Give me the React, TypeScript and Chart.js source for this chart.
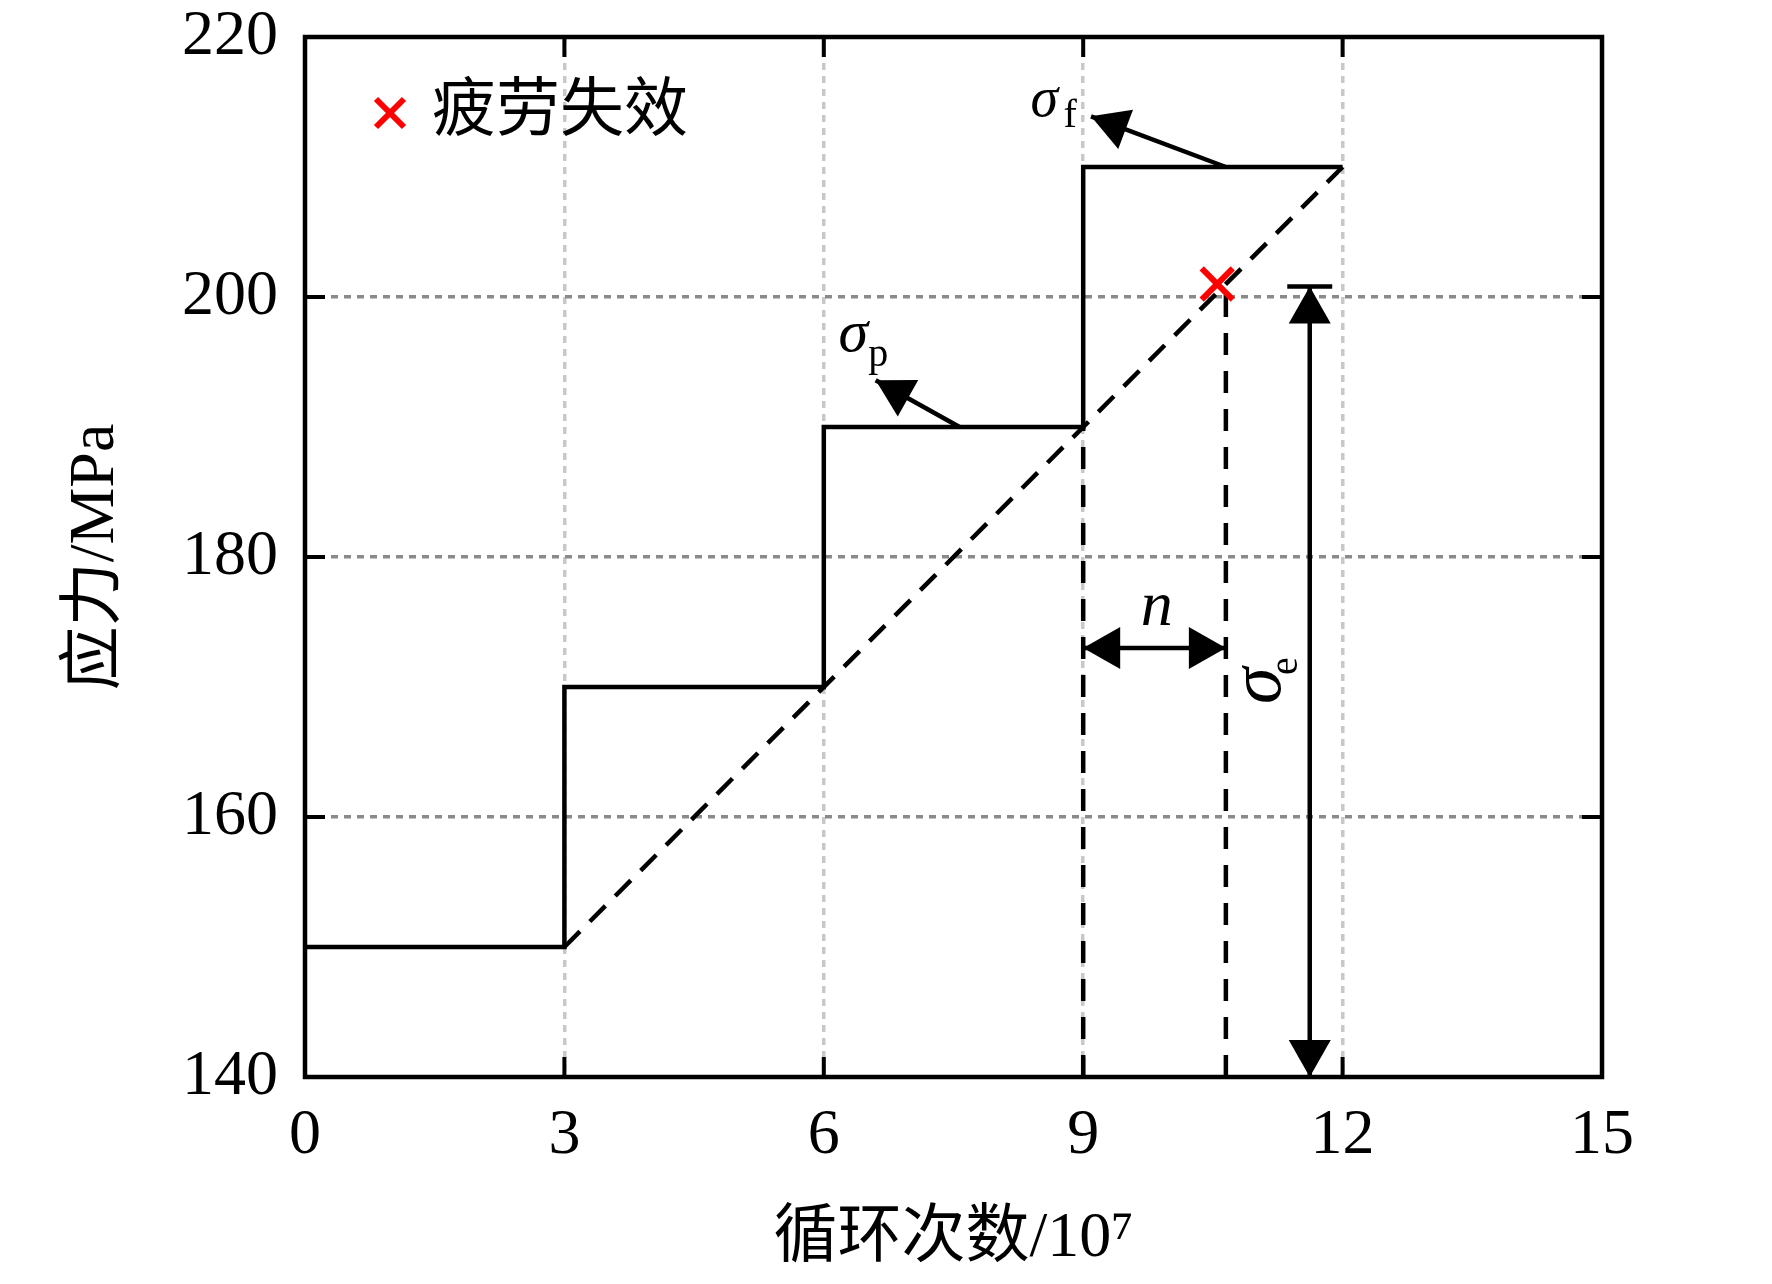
import { useEffect, useRef } from "react";
import { Chart, registerables } from "chart.js";

Chart.register(...registerables);

// axes
const xTicks = [0, 3, 6, 9, 12, 15];
const yTicks = [140, 160, 180, 200, 220];

// step loading: block start (10^7 cycles) and stress level (MPa)
const stepStarts = [0, 3, 6, 9];
const stepLevels = [150, 170, 190, 210];
const stepEnd = 12;

// dashed ramp through the step corners
const rampX = [3, 12];
const rampY = [150, 210];

// failure point
const failX = [10.55];
const failY = [201];

// dashed drop lines
const dropX = [9, 10.65];
const dropTop = [190, 200.5];

// arrows
const nArrowX = [9, 10.65];
const nArrowY = [173, 173];
const sigmaEArrowX = [11.62, 11.62];
const sigmaEArrowY = [140, 200.8];
const sigmaECapX = [11.36, 11.88];
const sigmaECapY = [200.8, 200.8];
const sigmaFArrowX = [10.65, 9.09];
const sigmaFArrowY = [210, 213.9];
const sigmaPArrowX = [7.57, 6.6];
const sigmaPArrowY = [190, 193.6];

const SERIF = "'Liberation Serif', 'Times New Roman', serif";
const MIXED = "'Liberation Serif', 'Noto Sans CJK SC', serif";

const pts = (xs: number[], ys: number[]) => xs.map((x, i) => ({ x, y: ys[i] }));

const line = (data: { x: number; y: number }[], dash: number[] = []) => ({
  type: "scatter" as const,
  data,
  showLine: true,
  borderColor: "#000",
  borderWidth: 4.5,
  borderDash: dash,
  borderJoinStyle: "miter" as const,
  pointRadius: 0,
  pointHoverRadius: 0,
  fill: false,
});

const stepPoints: { x: number; y: number }[] = [];
stepStarts.forEach((s, i) => {
  const e = i < stepStarts.length - 1 ? stepStarts[i + 1] : stepEnd;
  stepPoints.push({ x: s, y: stepLevels[i] }, { x: e, y: stepLevels[i] });
});

function head(ctx: CanvasRenderingContext2D, fx: number, fy: number, tx: number, ty: number) {
  const len = 37;
  const hw = 21;
  const d = Math.hypot(tx - fx, ty - fy);
  const ux = (tx - fx) / d;
  const uy = (ty - fy) / d;
  const bx = tx - ux * len;
  const by = ty - uy * len;
  ctx.beginPath();
  ctx.moveTo(tx, ty);
  ctx.lineTo(bx - uy * hw, by + ux * hw);
  ctx.lineTo(bx + uy * hw, by - ux * hw);
  ctx.closePath();
  ctx.fill();
}

const overlay = {
  id: "overlay",
  afterDatasetsDraw(chart: Chart) {
    const { ctx, chartArea } = chart;
    const sx = chart.scales.x;
    const sy = chart.scales.y;
    const X = (v: number) => sx.getPixelForValue(v);
    const Y = (v: number) => sy.getPixelForValue(v);
    ctx.save();

    // frame
    ctx.strokeStyle = "#000";
    ctx.lineWidth = 4.5;
    ctx.setLineDash([]);
    ctx.strokeRect(chartArea.left, chartArea.top, chartArea.right - chartArea.left, chartArea.bottom - chartArea.top);

    // inward ticks on all sides
    ctx.lineWidth = 4;
    ctx.beginPath();
    xTicks.forEach((v) => {
      const px = X(v);
      ctx.moveTo(px, chartArea.bottom);
      ctx.lineTo(px, chartArea.bottom - 20);
      ctx.moveTo(px, chartArea.top);
      ctx.lineTo(px, chartArea.top + 20);
    });
    yTicks.forEach((v) => {
      const py = Y(v);
      ctx.moveTo(chartArea.left, py);
      ctx.lineTo(chartArea.left + 20, py);
      ctx.moveTo(chartArea.right, py);
      ctx.lineTo(chartArea.right - 20, py);
    });
    ctx.stroke();

    // arrow heads
    ctx.fillStyle = "#000";
    const arrow = (xs: number[], ys: number[], both: boolean) => {
      head(ctx, X(xs[0]), Y(ys[0]), X(xs[1]), Y(ys[1]));
      if (both) head(ctx, X(xs[1]), Y(ys[1]), X(xs[0]), Y(ys[0]));
    };
    arrow(nArrowX, nArrowY, true);
    arrow(sigmaEArrowX, sigmaEArrowY, true);
    arrow(sigmaFArrowX, sigmaFArrowY, false);
    arrow(sigmaPArrowX, sigmaPArrowY, false);

    // labels (glyph centres given in data units)
    ctx.textAlign = "center";
    ctx.textBaseline = "alphabetic";
    const text = (t: string, xv: number, yv: number, style: string, size: number, k: number) => {
      ctx.font = `${style}${size}px ${SERIF}`;
      ctx.fillText(t, X(xv), Y(yv) + k * size);
    };
    text("σ", 8.55, 214.9, "italic ", 56, 0.23);
    text("f", 8.85, 214.1, "", 40, 0.34);
    text("σ", 6.34, 196.9, "italic ", 60, 0.23);
    text("p", 6.63, 195.1, "", 40, 0.12);
    text("n", 9.85, 175.9, "italic ", 64, 0.23);

    // rotated sigma_e
    const rot = (t: string, xv: number, yv: number, style: string, size: number, k: number) => {
      ctx.save();
      ctx.translate(X(xv), Y(yv));
      ctx.rotate(-Math.PI / 2);
      ctx.font = `${style}${size}px ${SERIF}`;
      ctx.fillText(t, 0, k * size);
      ctx.restore();
    };
    rot("σ", 11.08, 170.1, "italic ", 74, 0.23);
    rot("e", 11.37, 171.6, "", 40, 0.23);

    // legend
    const lx = chartArea.left + 85;
    const ly = chartArea.top + 76;
    ctx.strokeStyle = "#ff0000";
    ctx.lineWidth = 6;
    ctx.beginPath();
    ctx.moveTo(lx - 14, ly - 14);
    ctx.lineTo(lx + 14, ly + 14);
    ctx.moveTo(lx + 14, ly - 14);
    ctx.lineTo(lx - 14, ly + 14);
    ctx.stroke();
    ctx.fillStyle = "#000";
    ctx.textAlign = "left";
    ctx.textBaseline = "middle";
    ctx.font = `64px ${MIXED}`;
    ctx.fillText("疲劳失效", lx + 42, ly);

    ctx.restore();
  },
};

export default function App() {
  const chartRef = useRef<HTMLCanvasElement>(null);

  useEffect(() => {
    if (!chartRef.current) return;
    const chart = new Chart(chartRef.current, {
      type: "scatter",
      data: {
        datasets: [
          {
            type: "scatter",
            data: pts(failX, failY),
            pointStyle: "crossRot",
            pointRadius: 22,
            pointHoverRadius: 22,
            pointBorderWidth: 6,
            pointBorderColor: "#ff0000",
            pointBackgroundColor: "#ff0000",
            showLine: false,
          },
          line(stepPoints),
          line(pts(rampX, rampY), [22, 14]),
          ...dropX.map((x, i) => line(pts([x, x], [140, dropTop[i]]), [22, 16])),
          line(pts(nArrowX, nArrowY)),
          line(pts(sigmaEArrowX, sigmaEArrowY)),
          line(pts(sigmaECapX, sigmaECapY)),
          line(pts(sigmaFArrowX, sigmaFArrowY)),
          line(pts(sigmaPArrowX, sigmaPArrowY)),
        ],
      },
      options: {
        responsive: false,
        animation: false,
        devicePixelRatio: 1,
        layout: { padding: { left: 0, top: 37, right: 170, bottom: 0 } },
        plugins: {
          legend: { display: false },
          tooltip: { enabled: false },
        },
        scales: {
          x: {
            type: "linear",
            min: 0,
            max: 15,
            afterFit: (s: any) => {
              s.height = 207;
            },
            ticks: {
              stepSize: 3,
              autoSkip: false,
              maxRotation: 0,
              padding: 27,
              color: "#000",
              font: { family: SERIF, size: 64, lineHeight: 1 },
            },
            grid: {
              drawTicks: false,
              lineWidth: 3.5,
              color: (c: any) => (c.tick && (c.tick.value === 0 || c.tick.value === 15) ? "rgba(0,0,0,0)" : "#c8c8c8"),
            },
            border: { display: false, dash: [7, 6] },
            title: {
              display: true,
              text: "循环次数/10⁷",
              color: "#000",
              font: { family: MIXED, size: 64 },
              padding: { top: 0, bottom: 6 },
            },
          },
          y: {
            type: "linear",
            min: 140,
            max: 220,
            afterFit: (s: any) => {
              s.width = 305;
            },
            ticks: {
              stepSize: 20,
              padding: 4,
              color: "#000",
              font: { family: SERIF, size: 64, lineHeight: 1 },
            },
            grid: {
              drawTicks: true,
              tickLength: 23,
              tickColor: "rgba(0,0,0,0)",
              lineWidth: 3.5,
              color: (c: any) => (c.tick && (c.tick.value === 140 || c.tick.value === 220) ? "rgba(0,0,0,0)" : "#8a8a8a"),
            },
            border: { display: false, dash: [7, 6] },
            title: {
              display: true,
              text: "应力/MPa",
              color: "#000",
              font: { family: MIXED, size: 64 },
              padding: { top: 58, bottom: 0 },
            },
          },
        },
      },
      plugins: [overlay],
    });

    return () => {
      chart.destroy();
    };
  }, []);

  return (
    <div style={{ position: "absolute", left: 0, top: 0, width: 1772, height: 1284, background: "#fff" }}>
      <canvas ref={chartRef} width={1772} height={1284} style={{ display: "block", width: 1772, height: 1284 }}></canvas>
    </div>
  );
}
